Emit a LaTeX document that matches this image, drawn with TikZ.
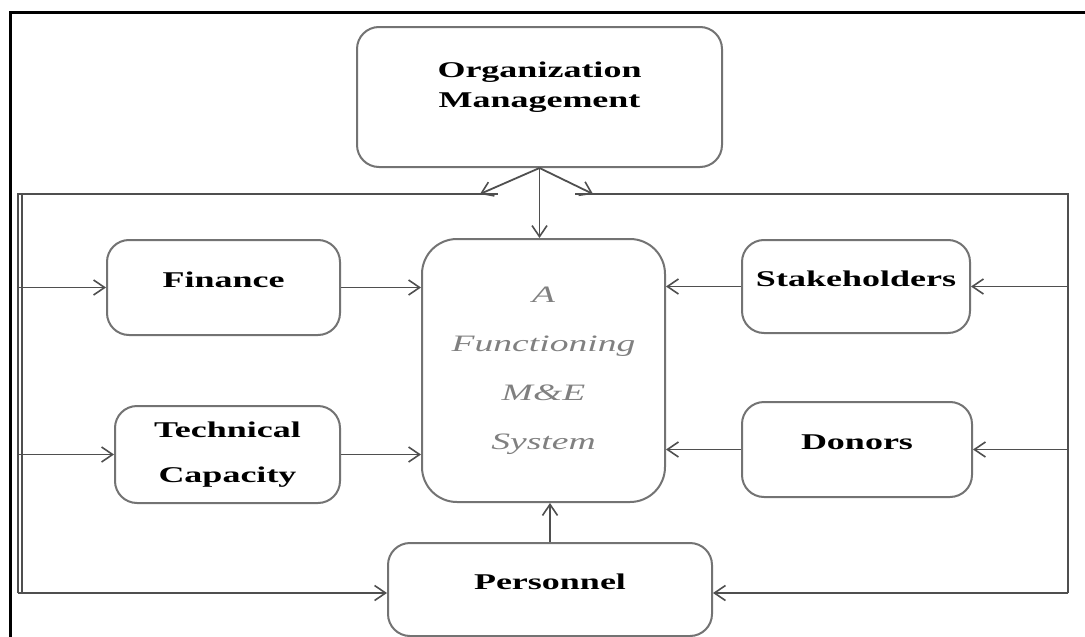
\documentclass[tikz,border=0pt]{standalone}
\usepackage{fontspec}
\setmainfont{Liberation Serif}[FakeStretch=1.6]
\usetikzlibrary{positioning,arrows.meta,calc}
\definecolor{boxgray}{HTML}{737373}
\definecolor{linegray}{HTML}{4F4F4F}
\definecolor{mestext}{HTML}{808080}
\tikzset{
  box/.style={draw=boxgray, line width=2pt, rounded corners=22pt, font=\fontsize{22.5}{30}\selectfont\bfseries, align=center},
  onerow/.style={text height=16pt, text depth=16pt},
  bus/.style={draw=linegray, line width=1.8pt},
  feed/.style={-{Straight Barb[length=11pt,width=15pt,line width=1.6pt]}, draw=linegray, line width=1.8pt},
  frame/.style={draw=black, line width=3pt},
}
\begin{document}
\begin{tikzpicture}[x=1pt,y=-1pt]
  \useasboundingbox (0,0) rectangle (1085,637);
  \draw[frame] (10,660) -- (10,12) -- (1100,12);

  \node[box, minimum width=365pt, minimum height=140pt,
        label={[font=\fontsize{22.5}{30}\selectfont\bfseries, align=center, yshift=10pt]center:Organization\\Management}] (org) at (539.5,97) {};
  \node[box, rounded corners=35pt, minimum width=243pt, minimum height=263pt,
        text=mestext, font=\fontsize{23.5}{49}\selectfont\itshape] (mes) at (543.5,370.5) {A\\Functioning\\M\&E\\System};
  \node[box, onerow, minimum width=233pt, minimum height=95pt] (fin) at (223.5,287.5) {Finance};
  \node[box, minimum width=225pt, minimum height=97pt] (tech) at (227.5,454.5) {Technical\\[15pt]Capacity};
  \node[box, onerow, minimum width=228pt, minimum height=93pt] (stake) at (856,286.5) {Stakeholders};
  \node[box, onerow, minimum width=230pt, minimum height=95pt] (donors) at (857,449.5) {Donors};
  \node[box, onerow, minimum width=324pt, minimum height=93pt] (pers) at (550,589.5) {Personnel};

  \coordinate (lt) at (18,194);
  \coordinate (lb) at (18,593);
  \coordinate (rt) at (1068,194);
  \coordinate (rb) at (1068,593);
  \coordinate (gapl) at (480,194);
  \coordinate (gapr) at (593,194);

  \draw[bus] (lb) -- (lt) -- (498,194);
  \draw[bus] ([xshift=4pt]lt) -- ([xshift=4pt]lb);
  \draw[bus] (575,194) -- (rt) -- (rb);

  \draw[feed] (org.south) -- (gapl);
  \draw[feed] (org.south) -- (gapr);
  \draw[feed] (org.south) -- (org.south |- mes.north);

  \draw[feed] (lt |- fin.west) -- (fin.west);
  \draw[feed] (fin.east) -- (fin.east -| mes.west);
  \draw[feed] (lt |- tech.west) -- (tech.west);
  \draw[feed] (tech.east) -- (tech.east -| mes.west);
  \draw[feed] (rt |- stake.east) -- (stake.east);
  \draw[feed] (stake.west) -- (stake.west -| mes.east);
  \draw[feed] (rt |- donors.east) -- (donors.east);
  \draw[feed] (donors.west) -- (donors.west -| mes.east);
  \draw[feed] (lb) -- (pers.west |- lb);
  \draw[feed] (rb) -- (pers.east |- rb);
  \draw[feed] (pers.north) -- (pers.north |- mes.south);
\end{tikzpicture}
\end{document}
